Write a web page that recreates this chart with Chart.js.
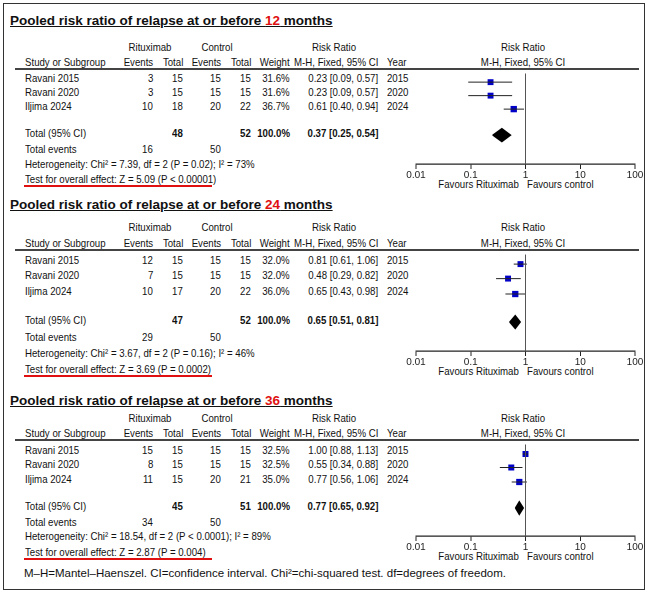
<!DOCTYPE html>
<html>
<head>
<meta charset="UTF-8">
<script src="https://cdn.jsdelivr.net/npm/chart.js"></script>
<style>
  body { margin: 0; background: #fff; width: 650px; height: 593px; position: relative; overflow: hidden; }
  #frame { position: absolute; left: 3px; top: 3px; width: 640px; height: 585px; border: 1.5px solid #333; }
  .t { position: absolute; font-family: "Liberation Sans", Arial, sans-serif; font-size: 11.5px; line-height: 14px; white-space: nowrap; color: #111; transform: scaleX(0.84); }
  .title { font-weight: bold; font-size: 13.5px; text-decoration: underline; transform: none; }
  .foot { font-size: 11.5px; transform: none; }
  .hl { position: absolute; height: 1.5px; background: #444; }
  .red { position: absolute; height: 2px; background: #e01010; }
  canvas { position: absolute; }
</style>
</head>
<body>
<div id="frame"></div>
<script>
const studies = ['Ravani 2015', 'Ravani 2020', 'Iljima 2024'];
const years = ['2015', '2020', '2024'];
const tickValues = [0.01, 0.1, 1, 10, 100];
const tickLabels = ['0.01', '0.1', '1', '10', '100'];

// 12 months
const ritEv12 = [3, 3, 10], ritTot12 = [15, 15, 18], ctlEv12 = [15, 15, 20], ctlTot12 = [15, 15, 22];
const weight12 = [31.6, 31.6, 36.7], rr12 = [0.23, 0.23, 0.61], lo12 = [0.09, 0.09, 0.40], hi12 = [0.57, 0.57, 0.94];
const total12 = [0.37, 0.25, 0.54], sums12 = [48, 52, 16, 50];
// 24 months
const ritEv24 = [12, 7, 10], ritTot24 = [15, 15, 17], ctlEv24 = [15, 15, 20], ctlTot24 = [15, 15, 22];
const weight24 = [32.0, 32.0, 36.0], rr24 = [0.81, 0.48, 0.65], lo24 = [0.61, 0.29, 0.43], hi24 = [1.06, 0.82, 0.98];
const total24 = [0.65, 0.51, 0.81], sums24 = [47, 52, 29, 50];
// 36 months
const ritEv36 = [15, 8, 11], ritTot36 = [15, 15, 15], ctlEv36 = [15, 15, 20], ctlTot36 = [15, 15, 21];
const weight36 = [32.5, 32.5, 35.0], rr36 = [1.00, 0.55, 0.77], lo36 = [0.88, 0.34, 0.56], hi36 = [1.13, 0.88, 1.06];
const total36 = [0.77, 0.65, 0.92], sums36 = [45, 51, 34, 50];

const hetTexts = [
  'Heterogeneity: Chi² = 7.39, df = 2 (P = 0.02); I² = 73%',
  'Heterogeneity: Chi² = 3.67, df = 2 (P = 0.16); I² = 46%',
  'Heterogeneity: Chi² = 18.54, df = 2 (P < 0.0001); I² = 89%'
];
const testTexts = [
  'Test for overall effect: Z = 5.09 (P < 0.00001)',
  'Test for overall effect: Z = 3.69 (P = 0.0002)',
  'Test for overall effect: Z = 2.87 (P = 0.004)'
];

const panels = [
  { months: 12, ritEv: ritEv12, ritTot: ritTot12, ctlEv: ctlEv12, ctlTot: ctlTot12, w: weight12, rr: rr12, lo: lo12, hi: hi12, tot: total12, sums: sums12 },
  { months: 24, ritEv: ritEv24, ritTot: ritTot24, ctlEv: ctlEv24, ctlTot: ctlTot24, w: weight24, rr: rr24, lo: lo24, hi: hi24, tot: total24, sums: sums24 },
  { months: 36, ritEv: ritEv36, ritTot: ritTot36, ctlEv: ctlEv36, ctlTot: ctlTot36, w: weight36, rr: rr36, lo: lo36, hi: hi36, tot: total36, sums: sums36 }
];

// layout (y positions of each panel's lines)
const layouts = [
  { title: 21, h1: 47, h2: 62, line: 69, rows: [78, 92, 106], total: 133, tev: 149, het: 164, test: 179, axis: 163 },
  { title: 205, h1: 227, h2: 243, line: 250, rows: [260, 275, 291], total: 320, tev: 337, het: 353, test: 369, axis: 350 },
  { title: 401, h1: 418, h2: 433, line: 440, rows: [450, 464, 479], total: 506, tev: 522, het: 536, test: 552, axis: 535 }
];

function txt(x, y, s, align, cls, bold) {
  const d = document.createElement('div');
  d.className = 't' + (cls ? ' ' + cls : '');
  d.innerHTML = s;
  d.style.top = (y - 7) + 'px';
  if (bold) d.style.fontWeight = 'bold';
  if (align === 'r') { d.style.right = (650 - x) + 'px'; d.style.transformOrigin = 'right center'; }
  else if (align === 'c') { d.style.left = (x - 100) + 'px'; d.style.width = '200px'; d.style.textAlign = 'center'; }
  else { d.style.left = x + 'px'; d.style.transformOrigin = 'left center'; }
  document.body.appendChild(d);
}
function bar(cls, x, y, w) {
  const d = document.createElement('div');
  d.className = cls;
  d.style.left = x + 'px'; d.style.top = y + 'px'; d.style.width = w + 'px';
  document.body.appendChild(d);
}
const f2 = v => v.toFixed(2);

panels.forEach((p, i) => {
  const L = layouts[i];
  txt(10, L.title, 'Pooled risk ratio of relapse at or before <span style="color:#e01010">' + p.months + '</span> months', 'l', 'title');
  txt(150, L.h1, 'Rituximab', 'c'); txt(217, L.h1, 'Control', 'c'); txt(334, L.h1, 'Risk Ratio', 'c'); txt(523, L.h1, 'Risk Ratio', 'c');
  txt(25, L.h2, 'Study or Subgroup'); txt(153, L.h2, 'Events', 'r'); txt(183, L.h2, 'Total', 'r');
  txt(221, L.h2, 'Events', 'r'); txt(251, L.h2, 'Total', 'r'); txt(290, L.h2, 'Weight', 'r');
  txt(378, L.h2, 'M-H, Fixed, 95% CI', 'r'); txt(387, L.h2, 'Year'); txt(523, L.h2, 'M-H, Fixed, 95% CI', 'c');
  bar('hl', 15, L.line - 1, 624);
  studies.forEach((s, k) => {
    const y = L.rows[k];
    txt(25, y, s); txt(153, y, p.ritEv[k], 'r'); txt(183, y, p.ritTot[k], 'r');
    txt(221, y, p.ctlEv[k], 'r'); txt(251, y, p.ctlTot[k], 'r'); txt(290, y, p.w[k].toFixed(1) + '%', 'r');
    txt(378, y, f2(p.rr[k]) + ' [' + f2(p.lo[k]) + ', ' + f2(p.hi[k]) + ']', 'r'); txt(387, y, years[k]);
  });
  txt(25, L.total, 'Total (95% CI)'); txt(183, L.total, p.sums[0], 'r', '', true); txt(251, L.total, p.sums[1], 'r', '', true);
  txt(290, L.total, '100.0%', 'r', '', true);
  txt(378, L.total, f2(p.tot[0]) + ' [' + f2(p.tot[1]) + ', ' + f2(p.tot[2]) + ']', 'r', '', true);
  txt(25, L.tev, 'Total events'); txt(153, L.tev, p.sums[2], 'r'); txt(221, L.tev, p.sums[3], 'r');
  txt(25, L.het, hetTexts[i]); txt(25, L.test, testTexts[i]);
  bar('red', 24, L.test + 6, 188);
  txt(519, L.axis + 21, 'Favours Rituximab', 'r'); txt(527, L.axis + 21, 'Favours control');

  // forest plot
  const cv = document.createElement('canvas');
  const top = L.line, h = L.axis - L.line;
  cv.style.left = '396px'; cv.style.top = top + 'px';
  cv.style.width = '254px'; cv.style.height = (h + 18) + 'px';
  document.body.appendChild(cv);
  const ds = [];
  ds.push({ type: 'line', data: [{ x: 1, y: 0 }, { x: 1, y: h }], borderColor: '#555', borderWidth: 1, pointRadius: 0 });
  studies.forEach((s, k) => {
    const y = L.rows[k] - L.line;
    ds.push({ type: 'line', data: [{ x: p.lo[k], y }, { x: p.hi[k], y }], borderColor: '#222', borderWidth: 1, pointRadius: 0 });
    ds.push({ type: 'scatter', data: [{ x: p.rr[k], y }], pointStyle: 'rect', pointRadius: 2.2 + p.w[k] / 16,
      backgroundColor: '#0000c8', borderColor: '#0000c8', borderWidth: 0 });
  });
  const ty = L.total - L.line;
  ds.push({ type: 'line', data: [{ x: p.tot[1], y: ty }, { x: p.tot[0], y: ty - 7 }, { x: p.tot[2], y: ty }, { x: p.tot[0], y: ty + 7 }, { x: p.tot[1], y: ty }],
    borderColor: '#000', backgroundColor: '#000', fill: 'shape', borderWidth: 1, pointRadius: 0, tension: 0 });
  new Chart(cv, {
    type: 'scatter',
    data: { datasets: ds },
    options: {
      responsive: false, animation: false, devicePixelRatio: 2,
      layout: { padding: { left: 20, right: 15, top: 0, bottom: 0 } },
      plugins: { legend: { display: false }, tooltip: { enabled: false } },
      scales: {
        x: {
          type: 'logarithmic', min: 0.01, max: 100,
          afterBuildTicks: ax => { ax.ticks = tickValues.map(v => ({ value: v })); },
          ticks: { callback: (v, idx) => tickLabels[idx], color: '#222', font: { family: 'Liberation Sans', size: 10 }, padding: 0, maxRotation: 0, autoSkip: false },
          grid: { drawOnChartArea: false, tickLength: 5, color: '#222' },
          border: { color: '#222', width: 1.2 }
        },
        y: { display: false, min: 0, max: h, reverse: true }
      }
    }
  });
});

txt(24, 573, 'M–H=Mantel–Haenszel. CI=confidence interval. Chi²=chi-squared test. df=degrees of freedom.', 'l', 'foot');
</script>
</body>
</html>
